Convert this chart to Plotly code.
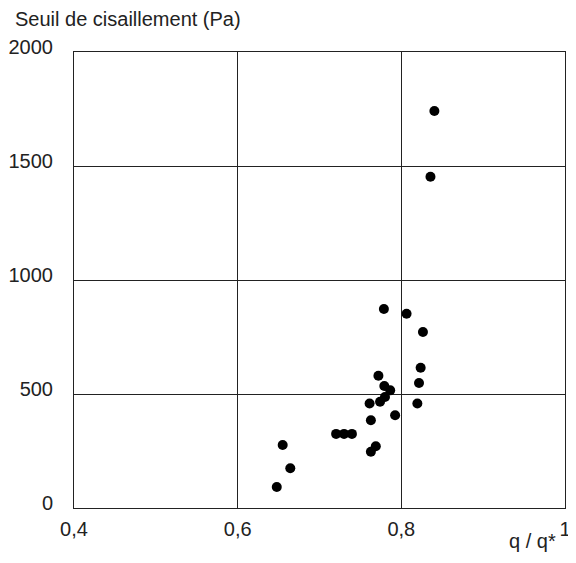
import plotly.graph_objects as go

# q / q* values
x_vals = [0.7787, 0.8064, 0.8264, 0.8236, 0.8216, 0.8196, 0.772, 0.7792, 0.7864, 0.780,
          0.774, 0.7612, 0.7924, 0.7628, 0.7203, 0.7300, 0.7396, 0.7688, 0.7628,
          0.655, 0.6643, 0.6478, 0.8404, 0.8356]
# Seuil de cisaillement (Pa)
y_vals = [873, 852, 772, 615, 548, 458, 580, 535, 516, 487,
          466, 458, 407, 385, 325, 325, 325, 271, 247,
          276, 174, 92, 1741, 1453]

x_tickvals = [0.4, 0.6, 0.8, 1.0]
x_ticktext = ["0,4", "0,6", "0,8", "1"]
y_tickvals = [0, 500, 1000, 1500, 2000]
y_ticktext = ["0", "500", "1000", "1500", "2000"]

FONT = "Liberation Sans, Arial, sans-serif"
FS = 20
OFF = 8  # page body margin offset
W, H = 576 - 2 * OFF, 563 - 2 * OFF
ML, MT = 74 - OFF, 52 - OFF
MR = W - (565 - OFF)
MB = H - (508 - OFF)
PW, PH = W - ML - MR, H - MT - MB

fig = go.Figure()
fig.add_trace(go.Scatter(
    x=x_vals, y=y_vals, mode="markers",
    marker=dict(color="black", size=10),
    showlegend=False,
))

fig.update_layout(
    width=W, height=H,
    margin=dict(l=ML, r=MR, t=MT, b=MB),
    paper_bgcolor="white", plot_bgcolor="white",
    font=dict(family=FONT, size=FS, color="#222"),
    xaxis=dict(range=[0.4, 1.0], tickvals=x_tickvals, ticktext=x_ticktext,
               showgrid=True, gridcolor="#222", gridwidth=1,
               showline=True, linecolor="#222", linewidth=1, mirror=True,
               zeroline=False, ticks="", ticklabelstandoff=3, automargin=False,
               ticklabeloverflow="allow"),
    yaxis=dict(range=[0, 2000], tickvals=y_tickvals, ticktext=y_ticktext,
               showgrid=True, gridcolor="#222", gridwidth=1,
               showline=True, linecolor="#222", linewidth=1, mirror=True,
               zeroline=False, ticks="", ticklabelstandoff=16, ticklabelshift=-5,
               automargin=False, ticklabeloverflow="allow"),
    annotations=[
        dict(text="Seuil de cisaillement (Pa)", xref="paper", yref="paper",
             x=(13 - 74) / PW, y=1 + (52 - 6) / PH, xanchor="left", yanchor="top",
             showarrow=False, font=dict(family=FONT, size=FS, color="#222")),
        dict(text="q / q*", xref="paper", yref="paper",
             x=(558 - 74) / PW, y=-(H - 1 - MT - PH) / PH, xanchor="right", yanchor="bottom",
             showarrow=False, font=dict(family=FONT, size=FS, color="#222")),
    ],
)

fig.write_html("out.html")
